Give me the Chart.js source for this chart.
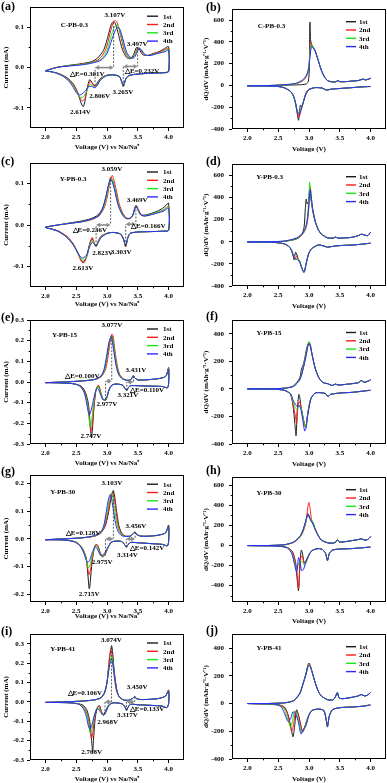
<!DOCTYPE html>
<html><head><meta charset="utf-8">
<script src="https://cdn.jsdelivr.net/npm/chart.js@4.4.1/dist/chart.umd.min.js"></script>
<style>
body{margin:0;background:#fff;width:387px;height:783px;position:relative;overflow:hidden}
canvas{position:absolute}
.pl{position:absolute;font:bold 12px 'Liberation Serif','Times New Roman',serif;line-height:12px;color:#000}
</style></head><body>
<script>
// ---------- tick labels / categories ----------
const cycleNames = ['1st','2nd','3rd','4th'];
const xTicks = [2.0,2.5,3.0,3.5,4.0];
const yTicksCV15 = [-0.1,0.0,0.1];
const yTicksCV3 = [-0.3,-0.2,-0.1,0.0,0.1,0.2,0.3];
const yTicksCV2 = [-0.2,-0.1,0.0,0.1,0.2];
const yTicksDQ6 = [-400,-200,0,200,400,600];
const yTicksDQ4 = [-400,-200,0,200,400];

// ---------- (a) C-PB-0.3 CV ----------
const a1 = [[2.0,-0.008],[2.1,-0.003],[2.2,0.001],[2.4,0.006],[2.6,0.01],[2.75,0.015],[2.85,0.024],[2.95,0.045],[3.02,0.08],[3.07,0.108],[3.107,0.115],[3.14,0.108],[3.19,0.08],[3.25,0.045],[3.32,0.025],[3.38,0.022],[3.43,0.032],[3.48,0.05],[3.52,0.046],[3.58,0.032],[3.65,0.03],[3.75,0.035],[3.85,0.04],[3.92,0.046],[4.0,0.052],
 [4.0,-0.008],[3.95,-0.012],[3.8,-0.013],[3.6,-0.015],[3.4,-0.018],[3.32,-0.024],[3.28,-0.04],[3.265,-0.046],[3.24,-0.035],[3.2,-0.022],[3.1,-0.018],[3.0,-0.019],[2.9,-0.026],[2.84,-0.038],[2.806,-0.045],[2.77,-0.04],[2.72,-0.03],[2.68,-0.05],[2.64,-0.085],[2.614,-0.097],[2.58,-0.088],[2.52,-0.06],[2.45,-0.04],[2.35,-0.025],[2.2,-0.014],[2.0,-0.008]];
const a2 = [[2.0,-0.008],[2.1,-0.003],[2.2,0.001],[2.4,0.005],[2.6,0.009],[2.75,0.013],[2.88,0.022],[2.98,0.045],[3.05,0.085],[3.1,0.112],[3.14,0.117],[3.17,0.11],[3.22,0.08],[3.28,0.043],[3.35,0.025],[3.41,0.024],[3.46,0.035],[3.5,0.05],[3.54,0.046],[3.6,0.032],[3.67,0.03],[3.77,0.035],[3.87,0.04],[3.93,0.044],[4.0,0.048],
 [4.0,-0.01],[3.9,-0.013],[3.7,-0.014],[3.5,-0.016],[3.35,-0.02],[3.3,-0.03],[3.265,-0.048],[3.24,-0.036],[3.2,-0.022],[3.1,-0.018],[3.0,-0.019],[2.9,-0.027],[2.84,-0.042],[2.8,-0.048],[2.76,-0.04],[2.72,-0.035],[2.68,-0.052],[2.64,-0.077],[2.6,-0.083],[2.56,-0.075],[2.5,-0.055],[2.43,-0.038],[2.33,-0.024],[2.2,-0.014],[2.0,-0.008]];
const a3 = [[2.0,-0.008],[2.2,0.001],[2.4,0.005],[2.6,0.008],[2.75,0.012],[2.9,0.02],[3.0,0.042],[3.07,0.08],[3.12,0.1],[3.16,0.106],[3.19,0.1],[3.24,0.075],[3.3,0.04],[3.37,0.024],[3.42,0.024],[3.47,0.035],[3.51,0.049],[3.55,0.045],[3.61,0.032],[3.68,0.03],[3.78,0.034],[3.88,0.038],[3.94,0.042],[4.0,0.046],
 [4.0,-0.01],[3.9,-0.013],[3.7,-0.014],[3.5,-0.016],[3.35,-0.02],[3.3,-0.03],[3.265,-0.047],[3.24,-0.036],[3.2,-0.022],[3.1,-0.018],[3.0,-0.019],[2.9,-0.028],[2.84,-0.044],[2.8,-0.049],[2.76,-0.044],[2.72,-0.042],[2.68,-0.055],[2.63,-0.07],[2.58,-0.075],[2.53,-0.068],[2.47,-0.05],[2.4,-0.035],[2.3,-0.022],[2.15,-0.012],[2.0,-0.008]];
const a4 = [[2.0,-0.008],[2.2,0.001],[2.4,0.004],[2.6,0.007],[2.75,0.011],[2.9,0.018],[3.0,0.035],[3.08,0.07],[3.14,0.094],[3.18,0.1],[3.21,0.095],[3.26,0.07],[3.32,0.038],[3.39,0.024],[3.44,0.025],[3.49,0.038],[3.52,0.048],[3.56,0.044],[3.62,0.032],[3.7,0.03],[3.8,0.034],[3.9,0.038],[3.95,0.04],[4.0,0.044],
 [4.0,-0.01],[3.9,-0.013],[3.7,-0.014],[3.5,-0.016],[3.35,-0.02],[3.3,-0.03],[3.265,-0.045],[3.24,-0.036],[3.2,-0.022],[3.1,-0.018],[3.0,-0.02],[2.9,-0.03],[2.84,-0.045],[2.8,-0.05],[2.75,-0.047],[2.7,-0.047],[2.65,-0.058],[2.59,-0.066],[2.55,-0.068],[2.5,-0.062],[2.44,-0.046],[2.37,-0.032],[2.27,-0.02],[2.12,-0.011],[2.0,-0.008]];

// ---------- (b) C-PB-0.3 dQ/dV ----------
const b1c = [[2.35,0],[2.6,2],[2.8,5],[2.9,8],[2.96,15],[2.99,40],[3.005,150],[3.015,580],[3.025,420],[3.04,380],[3.07,350],[3.1,320],[3.15,230],[3.2,140],[3.25,80],[3.3,45],[3.38,32],[3.44,35],[3.47,45],[3.5,35],[3.6,35],[3.7,40],[3.8,45],[3.88,58],[3.92,50],[4.0,65]];
const b1d = [[3.97,-10],[3.9,-12],[3.7,-20],[3.5,-28],[3.35,-35],[3.3,-42],[3.27,-40],[3.22,-25],[3.1,-20],[3.0,-35],[2.95,-70],[2.9,-170],[2.88,-200],[2.86,-180],[2.845,-250],[2.83,-320],[2.81,-260],[2.78,-160],[2.75,-100],[2.7,-55],[2.6,-22],[2.5,-10],[2.3,-5],[2.0,-4]];
const b2c = [[2.0,-4],[2.3,-2],[2.5,2],[2.7,10],[2.8,18],[2.9,42],[2.95,75],[2.98,115],[3.0,180],[3.015,320],[3.025,400],[3.035,375],[3.06,355],[3.1,320],[3.15,230],[3.2,140],[3.25,80],[3.3,45],[3.38,32],[3.44,35],[3.47,45],[3.5,35],[3.6,35],[3.7,40],[3.8,45],[3.88,58],[3.92,50],[4.0,65]];
const b2d = [[4.0,-10],[3.9,-12],[3.7,-20],[3.5,-28],[3.35,-35],[3.3,-42],[3.27,-40],[3.22,-25],[3.1,-20],[3.0,-38],[2.95,-75],[2.9,-170],[2.87,-230],[2.84,-290],[2.82,-270],[2.79,-180],[2.75,-100],[2.7,-55],[2.6,-22],[2.5,-10],[2.3,-5],[2.0,-4]];
const b3c = [[2.0,-4],[2.3,-2],[2.5,2],[2.7,10],[2.8,20],[2.9,48],[2.95,80],[2.98,120],[3.0,180],[3.015,290],[3.03,375],[3.045,365],[3.07,345],[3.1,315],[3.15,230],[3.2,140],[3.25,80],[3.3,45],[3.38,32],[3.44,35],[3.47,45],[3.5,35],[3.6,35],[3.7,40],[3.8,45],[3.88,58],[3.92,50],[4.0,65]];
const b3d = [[4.0,-10],[3.9,-12],[3.7,-20],[3.5,-28],[3.35,-35],[3.3,-42],[3.27,-40],[3.22,-25],[3.1,-20],[3.0,-40],[2.95,-80],[2.9,-160],[2.86,-230],[2.835,-250],[2.81,-230],[2.78,-170],[2.75,-105],[2.7,-55],[2.6,-22],[2.5,-10],[2.3,-5],[2.0,-4]];
const b4c = [[2.0,-4],[2.3,-2],[2.5,3],[2.7,12],[2.8,22],[2.9,52],[2.95,85],[2.98,125],[3.0,185],[3.02,280],[3.04,360],[3.06,350],[3.08,335],[3.1,315],[3.15,230],[3.2,140],[3.25,80],[3.3,45],[3.38,32],[3.44,35],[3.47,45],[3.5,35],[3.6,35],[3.7,40],[3.8,45],[3.88,58],[3.92,50],[4.0,65]];
const b4d = [[4.0,-10],[3.9,-12],[3.7,-20],[3.5,-28],[3.35,-35],[3.3,-42],[3.27,-40],[3.22,-25],[3.1,-20],[3.0,-40],[2.95,-80],[2.9,-170],[2.86,-240],[2.84,-270],[2.81,-240],[2.78,-160],[2.75,-100],[2.7,-55],[2.6,-22],[2.5,-10],[2.3,-5],[2.0,-4]];

// ---------- (c) Y-PB-0.3 CV ----------
const c1 = [[2.0,-0.005],[2.2,0.0],[2.4,0.005],[2.6,0.01],[2.75,0.016],[2.85,0.024],[2.92,0.038],[2.98,0.065],[3.03,0.1],[3.06,0.115],[3.09,0.108],[3.13,0.085],[3.18,0.052],[3.24,0.03],[3.3,0.018],[3.36,0.016],[3.41,0.022],[3.45,0.04],[3.47,0.047],[3.5,0.038],[3.55,0.025],[3.62,0.024],[3.72,0.028],[3.82,0.034],[3.9,0.04],[3.96,0.048],[4.0,0.053],
 [4.0,-0.012],[3.9,-0.015],[3.7,-0.016],[3.5,-0.017],[3.38,-0.02],[3.34,-0.03],[3.303,-0.052],[3.27,-0.035],[3.22,-0.022],[3.1,-0.018],[3.0,-0.02],[2.9,-0.028],[2.85,-0.042],[2.823,-0.052],[2.79,-0.043],[2.76,-0.033],[2.72,-0.045],[2.67,-0.075],[2.62,-0.09],[2.58,-0.085],[2.52,-0.065],[2.45,-0.045],[2.35,-0.028],[2.2,-0.014],[2.0,-0.006]];
const c2 = [[2.0,-0.005],[2.2,0.0],[2.4,0.004],[2.6,0.008],[2.75,0.013],[2.87,0.022],[2.95,0.04],[3.0,0.065],[3.05,0.105],[3.085,0.12],[3.11,0.11],[3.15,0.085],[3.2,0.05],[3.26,0.028],[3.32,0.016],[3.38,0.016],[3.42,0.024],[3.46,0.042],[3.48,0.047],[3.51,0.038],[3.56,0.024],[3.63,0.022],[3.73,0.026],[3.83,0.031],[3.91,0.036],[4.0,0.045],
 [4.0,-0.013],[3.9,-0.015],[3.7,-0.016],[3.5,-0.017],[3.38,-0.02],[3.34,-0.03],[3.303,-0.053],[3.27,-0.035],[3.22,-0.022],[3.1,-0.018],[3.0,-0.02],[2.9,-0.028],[2.85,-0.043],[2.823,-0.053],[2.79,-0.042],[2.76,-0.03],[2.72,-0.045],[2.67,-0.078],[2.62,-0.092],[2.58,-0.087],[2.52,-0.067],[2.45,-0.046],[2.35,-0.028],[2.2,-0.014],[2.0,-0.006]];
const c3 = [[2.0,-0.005],[2.2,0.0],[2.4,0.004],[2.6,0.008],[2.75,0.014],[2.86,0.022],[2.94,0.04],[3.0,0.075],[3.04,0.102],[3.07,0.112],[3.1,0.104],[3.14,0.08],[3.19,0.048],[3.25,0.027],[3.31,0.016],[3.37,0.016],[3.42,0.024],[3.45,0.04],[3.47,0.046],[3.5,0.038],[3.55,0.024],[3.62,0.022],[3.72,0.026],[3.82,0.031],[3.91,0.036],[4.0,0.043],
 [4.0,-0.013],[3.9,-0.015],[3.7,-0.016],[3.5,-0.017],[3.38,-0.02],[3.34,-0.03],[3.303,-0.051],[3.27,-0.035],[3.22,-0.022],[3.1,-0.018],[3.0,-0.02],[2.9,-0.03],[2.85,-0.044],[2.823,-0.052],[2.79,-0.045],[2.76,-0.038],[2.72,-0.05],[2.67,-0.076],[2.62,-0.085],[2.58,-0.082],[2.52,-0.066],[2.45,-0.047],[2.35,-0.03],[2.2,-0.015],[2.0,-0.006]];
const c4 = [[2.0,-0.005],[2.2,0.0],[2.4,0.004],[2.6,0.008],[2.75,0.014],[2.86,0.022],[2.93,0.04],[2.99,0.075],[3.03,0.1],[3.06,0.11],[3.09,0.102],[3.13,0.08],[3.18,0.048],[3.24,0.027],[3.3,0.016],[3.37,0.016],[3.42,0.024],[3.45,0.04],[3.47,0.046],[3.5,0.038],[3.55,0.024],[3.62,0.022],[3.72,0.025],[3.82,0.029],[3.91,0.033],[4.0,0.04],
 [4.0,-0.013],[3.9,-0.015],[3.7,-0.016],[3.5,-0.017],[3.38,-0.02],[3.34,-0.03],[3.303,-0.05],[3.27,-0.035],[3.22,-0.022],[3.1,-0.018],[3.0,-0.021],[2.9,-0.031],[2.85,-0.045],[2.82,-0.05],[2.79,-0.046],[2.76,-0.042],[2.72,-0.052],[2.67,-0.072],[2.61,-0.08],[2.57,-0.077],[2.51,-0.063],[2.44,-0.046],[2.34,-0.029],[2.2,-0.015],[2.0,-0.006]];

// ---------- (d) Y-PB-0.3 dQ/dV ----------
const d1c = [[2.3,0],[2.6,3],[2.8,25],[2.88,60],[2.92,130],[2.94,300],[2.955,385],[2.97,340],[2.99,360],[3.01,470],[3.03,390],[3.06,280],[3.1,180],[3.15,110],[3.2,70],[3.3,35],[3.4,33],[3.43,42],[3.47,32],[3.6,35],[3.7,40],[3.8,55],[3.85,68],[3.9,60],[3.95,55],[4.0,85]];
const d1d = [[3.96,-15],[3.9,-20],[3.7,-30],[3.5,-35],[3.35,-45],[3.3,-50],[3.25,-40],[3.15,-30],[3.05,-60],[3.0,-100],[2.96,-180],[2.92,-275],[2.88,-230],[2.85,-180],[2.82,-150],[2.8,-110],[2.78,-95],[2.76,-165],[2.74,-110],[2.7,-60],[2.6,-20],[2.4,-5],[2.0,-2]];
const d2c = [[2.0,-2],[2.3,0],[2.6,5],[2.8,30],[2.9,70],[2.95,120],[2.98,200],[3.0,330],[3.02,500],[3.035,420],[3.06,290],[3.1,185],[3.15,110],[3.2,70],[3.3,35],[3.4,33],[3.43,42],[3.47,32],[3.6,35],[3.7,40],[3.8,55],[3.85,68],[3.9,60],[3.95,55],[4.0,85]];
const d2d = [[4.0,-12],[3.9,-20],[3.7,-30],[3.5,-35],[3.35,-45],[3.3,-50],[3.25,-40],[3.15,-30],[3.05,-60],[3.0,-100],[2.96,-180],[2.92,-275],[2.88,-230],[2.85,-180],[2.82,-150],[2.8,-130],[2.78,-150],[2.76,-165],[2.73,-100],[2.7,-60],[2.6,-20],[2.4,-5],[2.0,-2]];
const d3c = [[2.0,-2],[2.3,0],[2.6,5],[2.8,30],[2.9,75],[2.95,130],[2.98,250],[3.0,420],[3.01,540],[3.025,450],[3.05,320],[3.1,190],[3.15,110],[3.2,70],[3.3,35],[3.4,33],[3.43,42],[3.47,32],[3.6,35],[3.7,40],[3.8,55],[3.85,68],[3.9,60],[3.95,55],[4.0,85]];
const d3d = [[4.0,-12],[3.9,-20],[3.7,-30],[3.5,-35],[3.35,-45],[3.3,-50],[3.25,-40],[3.15,-30],[3.05,-60],[3.0,-100],[2.96,-180],[2.92,-275],[2.88,-230],[2.85,-180],[2.82,-155],[2.8,-150],[2.77,-160],[2.74,-120],[2.7,-60],[2.6,-20],[2.4,-5],[2.0,-2]];
const d4c = [[2.0,-2],[2.3,0],[2.6,6],[2.8,35],[2.9,80],[2.95,140],[2.98,230],[3.0,360],[3.02,470],[3.035,410],[3.06,300],[3.1,190],[3.15,110],[3.2,70],[3.3,35],[3.4,33],[3.43,42],[3.47,32],[3.6,35],[3.7,40],[3.8,55],[3.85,68],[3.9,60],[3.95,55],[4.0,85]];
const d4d = [[4.0,-12],[3.9,-20],[3.7,-30],[3.5,-35],[3.35,-45],[3.3,-50],[3.25,-40],[3.15,-30],[3.05,-60],[3.0,-100],[2.96,-185],[2.92,-278],[2.88,-235],[2.85,-185],[2.82,-165],[2.8,-160],[2.76,-150],[2.72,-90],[2.68,-45],[2.6,-18],[2.4,-5],[2.0,-2]];

// ---------- (e) Y-PB-15 CV ----------
const e1 = [[2.0,-0.003],[2.3,0.0],[2.6,0.006],[2.8,0.013],[2.9,0.028],[2.96,0.06],[3.0,0.12],[3.04,0.19],[3.07,0.225],[3.09,0.215],[3.12,0.15],[3.16,0.075],[3.2,0.035],[3.26,0.015],[3.33,0.008],[3.38,0.01],[3.41,0.022],[3.43,0.03],[3.45,0.02],[3.5,0.01],[3.6,0.01],[3.7,0.012],[3.8,0.015],[3.9,0.02],[3.96,0.03],[4.0,0.07],
 [4.0,-0.01],[3.98,-0.028],[3.9,-0.022],[3.7,-0.02],[3.5,-0.018],[3.38,-0.018],[3.34,-0.03],[3.321,-0.042],[3.3,-0.035],[3.25,-0.015],[3.15,-0.01],[3.08,-0.015],[3.03,-0.04],[3.0,-0.075],[2.977,-0.088],[2.94,-0.085],[2.9,-0.055],[2.87,-0.022],[2.85,-0.02],[2.82,-0.04],[2.79,-0.12],[2.76,-0.24],[2.747,-0.27],[2.73,-0.22],[2.7,-0.11],[2.65,-0.05],[2.58,-0.02],[2.45,-0.008],[2.2,-0.004],[2.0,-0.003]];
const e2 = [[2.0,-0.003],[2.3,0.0],[2.6,0.005],[2.8,0.012],[2.9,0.024],[2.97,0.055],[3.01,0.11],[3.05,0.19],[3.08,0.232],[3.1,0.22],[3.13,0.15],[3.17,0.075],[3.21,0.035],[3.27,0.015],[3.33,0.008],[3.38,0.01],[3.41,0.022],[3.43,0.03],[3.45,0.02],[3.5,0.01],[3.6,0.01],[3.7,0.012],[3.8,0.015],[3.9,0.02],[3.96,0.03],[4.0,0.068],
 [4.0,-0.01],[3.98,-0.028],[3.9,-0.022],[3.7,-0.02],[3.5,-0.018],[3.38,-0.018],[3.34,-0.03],[3.321,-0.042],[3.3,-0.035],[3.25,-0.015],[3.15,-0.01],[3.08,-0.015],[3.03,-0.04],[3.0,-0.075],[2.977,-0.088],[2.94,-0.085],[2.9,-0.05],[2.87,-0.018],[2.85,-0.017],[2.82,-0.04],[2.79,-0.11],[2.76,-0.21],[2.74,-0.24],[2.72,-0.2],[2.69,-0.11],[2.64,-0.05],[2.57,-0.02],[2.45,-0.008],[2.2,-0.004],[2.0,-0.003]];
const e3 = [[2.0,-0.003],[2.3,0.0],[2.6,0.005],[2.8,0.012],[2.9,0.026],[2.96,0.058],[3.0,0.12],[3.04,0.195],[3.07,0.222],[3.09,0.21],[3.12,0.15],[3.16,0.075],[3.2,0.035],[3.26,0.015],[3.33,0.008],[3.38,0.01],[3.41,0.022],[3.43,0.03],[3.45,0.02],[3.5,0.01],[3.6,0.01],[3.7,0.012],[3.8,0.015],[3.9,0.02],[3.96,0.03],[4.0,0.065],
 [4.0,-0.01],[3.98,-0.028],[3.9,-0.022],[3.7,-0.02],[3.5,-0.018],[3.38,-0.018],[3.34,-0.03],[3.321,-0.042],[3.3,-0.035],[3.25,-0.015],[3.15,-0.01],[3.08,-0.015],[3.03,-0.04],[3.0,-0.075],[2.97,-0.088],[2.94,-0.086],[2.9,-0.055],[2.86,-0.024],[2.84,-0.024],[2.81,-0.05],[2.78,-0.11],[2.75,-0.19],[2.73,-0.22],[2.71,-0.18],[2.68,-0.1],[2.63,-0.05],[2.56,-0.02],[2.45,-0.008],[2.2,-0.004],[2.0,-0.003]];
const e4 = [[2.0,-0.003],[2.3,0.0],[2.6,0.005],[2.8,0.012],[2.9,0.028],[2.95,0.06],[2.99,0.12],[3.03,0.19],[3.06,0.215],[3.08,0.205],[3.11,0.15],[3.15,0.075],[3.19,0.035],[3.25,0.015],[3.33,0.008],[3.38,0.01],[3.41,0.022],[3.43,0.03],[3.45,0.02],[3.5,0.01],[3.6,0.01],[3.7,0.012],[3.8,0.015],[3.9,0.02],[3.96,0.03],[4.0,0.062],
 [4.0,-0.01],[3.98,-0.028],[3.9,-0.022],[3.7,-0.02],[3.5,-0.018],[3.38,-0.018],[3.34,-0.03],[3.321,-0.04],[3.3,-0.034],[3.25,-0.015],[3.15,-0.01],[3.08,-0.015],[3.03,-0.04],[3.0,-0.07],[2.96,-0.085],[2.93,-0.085],[2.9,-0.065],[2.86,-0.035],[2.84,-0.03],[2.81,-0.05],[2.77,-0.1],[2.74,-0.14],[2.71,-0.16],[2.68,-0.12],[2.64,-0.06],[2.58,-0.025],[2.48,-0.01],[2.2,-0.004],[2.0,-0.003]];

// ---------- (f) Y-PB-15 dQ/dV ----------
const f1c = [[2.3,0],[2.6,5],[2.75,22],[2.85,80],[2.88,150],[2.9,165],[2.93,220],[2.96,290],[2.99,330],[3.02,310],[3.05,245],[3.1,150],[3.15,90],[3.2,55],[3.25,42],[3.3,38],[3.38,25],[3.43,35],[3.47,28],[3.6,33],[3.7,38],[3.8,45],[3.85,60],[3.9,48],[3.95,55],[4.0,65]];
const f1d = [[3.97,-10],[3.9,-15],[3.7,-25],[3.5,-30],[3.35,-40],[3.31,-55],[3.27,-35],[3.2,-28],[3.1,-30],[3.03,-70],[2.98,-180],[2.95,-275],[2.93,-265],[2.9,-200],[2.87,-130],[2.85,-60],[2.835,-40],[2.81,-150],[2.79,-340],[2.77,-250],[2.74,-120],[2.7,-40],[2.6,-10],[2.4,-2],[2.0,0]];
const f2c = [[2.0,0],[2.3,0],[2.6,5],[2.75,20],[2.85,70],[2.9,140],[2.95,240],[2.98,310],[3.0,340],[3.02,320],[3.05,250],[3.1,150],[3.15,90],[3.2,55],[3.25,42],[3.3,38],[3.38,25],[3.43,35],[3.47,28],[3.6,33],[3.7,38],[3.8,45],[3.85,60],[3.9,48],[3.95,55],[4.0,65]];
const f2d = [[4.0,-10],[3.9,-15],[3.7,-25],[3.5,-30],[3.35,-40],[3.31,-55],[3.27,-35],[3.2,-28],[3.1,-30],[3.03,-70],[2.98,-175],[2.95,-270],[2.93,-265],[2.9,-200],[2.87,-130],[2.85,-95],[2.83,-100],[2.81,-180],[2.8,-250],[2.78,-200],[2.74,-110],[2.7,-40],[2.6,-10],[2.4,-2],[2.0,0]];
const f3c = [[2.0,0],[2.3,0],[2.6,5],[2.75,20],[2.85,70],[2.9,140],[2.95,245],[2.98,315],[3.0,345],[3.02,325],[3.05,250],[3.1,150],[3.15,90],[3.2,55],[3.25,42],[3.3,38],[3.38,25],[3.43,35],[3.47,28],[3.6,33],[3.7,38],[3.8,45],[3.85,60],[3.9,48],[3.95,55],[4.0,65]];
const f3d = [[4.0,-10],[3.9,-15],[3.7,-25],[3.5,-30],[3.35,-40],[3.31,-55],[3.27,-35],[3.2,-28],[3.1,-30],[3.03,-70],[2.98,-180],[2.95,-280],[2.93,-270],[2.9,-200],[2.87,-140],[2.85,-120],[2.83,-130],[2.81,-150],[2.78,-140],[2.74,-90],[2.7,-35],[2.6,-10],[2.4,-2],[2.0,0]];
const f4c = [[2.0,0],[2.3,0],[2.6,5],[2.75,18],[2.85,65],[2.9,135],[2.95,235],[2.98,305],[3.0,330],[3.02,320],[3.05,252],[3.1,152],[3.15,90],[3.2,55],[3.25,42],[3.3,38],[3.38,25],[3.43,35],[3.47,28],[3.6,33],[3.7,38],[3.8,45],[3.85,60],[3.9,48],[3.95,55],[4.0,65]];
const f4d = [[4.0,-10],[3.9,-15],[3.7,-25],[3.5,-30],[3.35,-40],[3.31,-55],[3.27,-35],[3.2,-28],[3.1,-30],[3.03,-75],[2.98,-190],[2.95,-290],[2.93,-305],[2.9,-230],[2.87,-150],[2.84,-120],[2.82,-130],[2.79,-120],[2.74,-80],[2.7,-35],[2.6,-10],[2.4,-2],[2.0,0]];

// ---------- (g) Y-PB-30 CV ----------
const g1 = [[2.0,-0.003],[2.3,0.0],[2.6,0.004],[2.8,0.01],[2.9,0.022],[2.97,0.045],[3.02,0.09],[3.06,0.14],[3.09,0.17],[3.103,0.175],[3.12,0.16],[3.15,0.11],[3.19,0.05],[3.24,0.02],[3.3,0.01],[3.38,0.01],[3.42,0.018],[3.456,0.025],[3.48,0.016],[3.55,0.01],[3.7,0.01],[3.85,0.014],[3.95,0.022],[4.0,0.05],
 [4.0,-0.01],[3.98,-0.025],[3.9,-0.02],[3.7,-0.017],[3.5,-0.014],[3.38,-0.013],[3.34,-0.022],[3.314,-0.03],[3.29,-0.022],[3.24,-0.01],[3.15,-0.008],[3.07,-0.012],[3.02,-0.03],[2.97,-0.055],[2.93,-0.065],[2.89,-0.05],[2.85,-0.025],[2.82,-0.02],[2.79,-0.035],[2.75,-0.1],[2.72,-0.175],[2.71,-0.18],[2.69,-0.13],[2.66,-0.07],[2.6,-0.035],[2.5,-0.012],[2.3,-0.004],[2.0,-0.003]];
const g2 = [[2.0,-0.003],[2.3,0.0],[2.6,0.004],[2.8,0.01],[2.9,0.022],[2.96,0.045],[3.01,0.09],[3.05,0.14],[3.08,0.165],[3.09,0.168],[3.11,0.155],[3.14,0.11],[3.18,0.05],[3.23,0.02],[3.3,0.01],[3.38,0.01],[3.42,0.018],[3.456,0.025],[3.48,0.016],[3.55,0.01],[3.7,0.01],[3.85,0.014],[3.95,0.022],[4.0,0.048],
 [4.0,-0.01],[3.98,-0.025],[3.9,-0.02],[3.7,-0.017],[3.5,-0.014],[3.38,-0.013],[3.34,-0.022],[3.314,-0.03],[3.29,-0.022],[3.24,-0.01],[3.15,-0.008],[3.07,-0.012],[3.02,-0.03],[2.97,-0.055],[2.92,-0.065],[2.88,-0.045],[2.85,-0.023],[2.82,-0.022],[2.78,-0.045],[2.74,-0.1],[2.71,-0.13],[2.69,-0.11],[2.66,-0.065],[2.6,-0.033],[2.5,-0.012],[2.3,-0.004],[2.0,-0.003]];
const g3 = [[2.0,-0.003],[2.3,0.0],[2.6,0.004],[2.8,0.011],[2.9,0.024],[2.95,0.047],[3.0,0.095],[3.04,0.145],[3.07,0.165],[3.09,0.155],[3.12,0.11],[3.16,0.055],[3.21,0.022],[3.28,0.01],[3.38,0.01],[3.42,0.018],[3.456,0.025],[3.48,0.016],[3.55,0.01],[3.7,0.01],[3.85,0.014],[3.95,0.022],[4.0,0.046],
 [4.0,-0.01],[3.98,-0.025],[3.9,-0.02],[3.7,-0.017],[3.5,-0.014],[3.38,-0.013],[3.34,-0.022],[3.314,-0.03],[3.29,-0.022],[3.24,-0.01],[3.15,-0.008],[3.07,-0.012],[3.02,-0.03],[2.96,-0.055],[2.91,-0.063],[2.87,-0.045],[2.84,-0.028],[2.81,-0.028],[2.77,-0.05],[2.73,-0.09],[2.7,-0.105],[2.68,-0.09],[2.64,-0.055],[2.58,-0.028],[2.48,-0.01],[2.3,-0.004],[2.0,-0.003]];
const g4 = [[2.0,-0.003],[2.3,0.0],[2.6,0.004],[2.8,0.012],[2.9,0.026],[2.95,0.05],[2.99,0.1],[3.02,0.14],[3.05,0.16],[3.07,0.15],[3.1,0.11],[3.14,0.055],[3.19,0.022],[3.26,0.01],[3.38,0.01],[3.42,0.018],[3.456,0.024],[3.48,0.016],[3.55,0.01],[3.7,0.01],[3.85,0.014],[3.95,0.022],[4.0,0.045],
 [4.0,-0.01],[3.98,-0.025],[3.9,-0.02],[3.7,-0.017],[3.5,-0.014],[3.38,-0.013],[3.34,-0.022],[3.314,-0.029],[3.29,-0.022],[3.24,-0.01],[3.15,-0.008],[3.07,-0.012],[3.02,-0.028],[2.96,-0.052],[2.9,-0.06],[2.86,-0.045],[2.83,-0.032],[2.8,-0.032],[2.76,-0.05],[2.72,-0.077],[2.69,-0.085],[2.66,-0.075],[2.62,-0.05],[2.56,-0.025],[2.46,-0.01],[2.3,-0.004],[2.0,-0.003]];

// ---------- (h) Y-PB-30 dQ/dV ----------
const h1c = [[2.3,0],[2.6,8],[2.75,35],[2.85,90],[2.9,150],[2.95,250],[2.98,320],[3.0,300],[3.03,250],[3.06,220],[3.1,160],[3.15,100],[3.2,55],[3.3,28],[3.4,25],[3.44,40],[3.46,55],[3.5,35],[3.6,40],[3.7,50],[3.8,60],[3.85,68],[3.9,55],[3.95,60],[4.0,90]];
const h1d = [[3.97,-15],[3.9,-20],[3.7,-30],[3.5,-35],[3.38,-45],[3.33,-80],[3.3,-150],[3.27,-80],[3.22,-40],[3.15,-30],[3.05,-50],[3.0,-90],[2.95,-150],[2.92,-170],[2.895,-80],[2.875,-45],[2.85,-200],[2.83,-450],[2.81,-350],[2.78,-170],[2.73,-60],[2.65,-20],[2.5,-5],[2.0,0]];
const h2c = [[2.0,0],[2.3,0],[2.6,8],[2.75,30],[2.85,80],[2.9,130],[2.95,230],[2.98,380],[3.0,430],[3.02,360],[3.04,260],[3.07,220],[3.1,160],[3.15,100],[3.2,55],[3.3,28],[3.4,25],[3.44,40],[3.46,55],[3.5,35],[3.6,40],[3.7,50],[3.8,60],[3.85,68],[3.9,55],[3.95,60],[4.0,90]];
const h2d = [[4.0,-15],[3.9,-20],[3.7,-30],[3.5,-35],[3.38,-45],[3.33,-80],[3.3,-150],[3.27,-80],[3.22,-40],[3.15,-30],[3.05,-50],[3.0,-90],[2.95,-160],[2.92,-180],[2.895,-110],[2.87,-110],[2.85,-250],[2.83,-430],[2.81,-300],[2.78,-160],[2.73,-60],[2.65,-20],[2.5,-5],[2.0,0]];
const h3c = [[2.0,0],[2.3,0],[2.6,8],[2.75,32],[2.85,85],[2.9,140],[2.95,240],[2.98,300],[3.0,285],[3.03,260],[3.06,240],[3.1,170],[3.15,100],[3.2,55],[3.3,28],[3.4,25],[3.44,40],[3.46,55],[3.5,35],[3.6,40],[3.7,50],[3.8,60],[3.85,68],[3.9,55],[3.95,60],[4.0,90]];
const h3d = [[4.0,-15],[3.9,-20],[3.7,-30],[3.5,-35],[3.38,-45],[3.33,-80],[3.3,-150],[3.27,-80],[3.22,-40],[3.15,-30],[3.05,-50],[3.0,-100],[2.95,-180],[2.93,-200],[2.9,-170],[2.86,-150],[2.82,-200],[2.8,-250],[2.77,-180],[2.72,-70],[2.65,-22],[2.5,-5],[2.0,0]];
const h4c = [[2.0,0],[2.3,0],[2.6,8],[2.75,35],[2.85,90],[2.9,150],[2.95,250],[2.98,310],[3.0,290],[3.03,250],[3.06,225],[3.1,165],[3.15,100],[3.2,55],[3.3,28],[3.4,25],[3.44,40],[3.46,55],[3.5,35],[3.6,40],[3.7,50],[3.8,60],[3.85,68],[3.9,55],[3.95,60],[4.0,90]];
const h4d = [[4.0,-15],[3.9,-20],[3.7,-30],[3.5,-35],[3.38,-45],[3.33,-80],[3.3,-150],[3.27,-80],[3.22,-40],[3.15,-30],[3.05,-50],[3.0,-95],[2.95,-160],[2.91,-240],[2.88,-250],[2.85,-150],[2.83,-120],[2.8,-270],[2.77,-200],[2.72,-80],[2.65,-25],[2.5,-6],[2.0,0]];

// ---------- (i) Y-PB-41 CV ----------
const i1 = [[2.0,-0.003],[2.3,0.0],[2.6,0.004],[2.8,0.01],[2.9,0.02],[2.96,0.045],[3.0,0.1],[3.04,0.22],[3.074,0.29],[3.09,0.26],[3.12,0.15],[3.16,0.06],[3.2,0.025],[3.27,0.01],[3.35,0.008],[3.42,0.018],[3.45,0.028],[3.48,0.016],[3.55,0.012],[3.7,0.013],[3.85,0.018],[3.95,0.03],[4.0,0.06],
 [4.0,-0.01],[3.97,-0.03],[3.9,-0.022],[3.7,-0.018],[3.5,-0.015],[3.38,-0.013],[3.34,-0.03],[3.317,-0.045],[3.29,-0.025],[3.24,-0.01],[3.1,-0.005],[3.03,-0.015],[2.98,-0.045],[2.94,-0.065],[2.91,-0.05],[2.88,-0.02],[2.85,-0.025],[2.81,-0.08],[2.78,-0.2],[2.768,-0.26],[2.75,-0.2],[2.72,-0.1],[2.67,-0.04],[2.6,-0.015],[2.4,-0.005],[2.0,-0.003]];
const i2 = [[2.0,-0.003],[2.3,0.0],[2.6,0.004],[2.8,0.01],[2.9,0.02],[2.96,0.045],[3.0,0.1],[3.03,0.2],[3.06,0.27],[3.08,0.25],[3.11,0.15],[3.15,0.06],[3.2,0.025],[3.27,0.01],[3.35,0.008],[3.42,0.018],[3.45,0.028],[3.48,0.016],[3.55,0.012],[3.7,0.013],[3.85,0.018],[3.95,0.03],[4.0,0.062],
 [4.0,-0.01],[3.97,-0.03],[3.9,-0.022],[3.7,-0.018],[3.5,-0.015],[3.38,-0.013],[3.34,-0.03],[3.317,-0.045],[3.29,-0.025],[3.24,-0.01],[3.1,-0.005],[3.03,-0.017],[2.98,-0.05],[2.94,-0.068],[2.9,-0.045],[2.87,-0.025],[2.84,-0.03],[2.8,-0.08],[2.77,-0.16],[2.75,-0.19],[2.73,-0.16],[2.7,-0.09],[2.65,-0.04],[2.58,-0.015],[2.4,-0.005],[2.0,-0.003]];
const i3 = [[2.0,-0.003],[2.3,0.0],[2.6,0.004],[2.8,0.01],[2.9,0.021],[2.96,0.047],[3.0,0.1],[3.04,0.19],[3.07,0.235],[3.09,0.22],[3.12,0.14],[3.16,0.058],[3.2,0.025],[3.27,0.01],[3.35,0.008],[3.42,0.018],[3.45,0.028],[3.48,0.016],[3.55,0.012],[3.7,0.013],[3.85,0.018],[3.95,0.03],[4.0,0.058],
 [4.0,-0.01],[3.97,-0.03],[3.9,-0.022],[3.7,-0.018],[3.5,-0.015],[3.38,-0.013],[3.34,-0.03],[3.317,-0.044],[3.29,-0.025],[3.24,-0.01],[3.1,-0.005],[3.03,-0.018],[2.98,-0.052],[2.94,-0.07],[2.9,-0.05],[2.86,-0.032],[2.83,-0.035],[2.79,-0.08],[2.76,-0.14],[2.73,-0.16],[2.71,-0.13],[2.68,-0.075],[2.63,-0.035],[2.56,-0.013],[2.4,-0.005],[2.0,-0.003]];
const i4 = [[2.0,-0.003],[2.3,0.0],[2.6,0.004],[2.8,0.011],[2.9,0.022],[2.96,0.05],[3.0,0.1],[3.04,0.185],[3.07,0.22],[3.09,0.205],[3.12,0.14],[3.16,0.06],[3.2,0.026],[3.27,0.01],[3.35,0.008],[3.42,0.018],[3.45,0.027],[3.48,0.016],[3.55,0.012],[3.7,0.013],[3.85,0.018],[3.95,0.03],[4.0,0.055],
 [4.0,-0.01],[3.97,-0.03],[3.9,-0.022],[3.7,-0.018],[3.5,-0.015],[3.38,-0.013],[3.34,-0.029],[3.317,-0.043],[3.29,-0.025],[3.24,-0.01],[3.1,-0.005],[3.03,-0.02],[2.98,-0.055],[2.94,-0.07],[2.9,-0.055],[2.86,-0.038],[2.83,-0.04],[2.79,-0.075],[2.75,-0.125],[2.72,-0.14],[2.69,-0.115],[2.66,-0.07],[2.61,-0.032],[2.54,-0.012],[2.4,-0.005],[2.0,-0.003]];

// ---------- (j) Y-PB-41 dQ/dV ----------
const j1c = [[2.3,0],[2.6,5],[2.75,22],[2.85,75],[2.9,140],[2.95,215],[2.98,275],[3.0,292],[3.02,275],[3.05,230],[3.1,150],[3.15,90],[3.2,55],[3.3,28],[3.38,25],[3.42,40],[3.46,80],[3.49,40],[3.55,35],[3.7,45],[3.8,55],[3.85,65],[3.9,55],[3.95,60],[4.0,80]];
const j1d = [[3.97,-10],[3.9,-18],[3.7,-25],[3.5,-30],[3.38,-45],[3.33,-90],[3.3,-170],[3.28,-120],[3.24,-50],[3.15,-40],[3.05,-50],[3.0,-80],[2.95,-140],[2.92,-180],[2.89,-200],[2.85,-120],[2.8,-45],[2.77,-150],[2.74,-240],[2.71,-180],[2.66,-80],[2.6,-25],[2.5,-8],[2.0,0]];
const j2c = [[2.0,0],[2.3,0],[2.6,5],[2.75,20],[2.85,70],[2.9,135],[2.95,210],[2.98,268],[3.0,283],[3.02,270],[3.05,228],[3.1,150],[3.15,90],[3.2,55],[3.3,28],[3.38,25],[3.42,40],[3.46,78],[3.49,40],[3.55,35],[3.7,45],[3.8,55],[3.85,65],[3.9,55],[3.95,60],[4.0,80]];
const j2d = [[4.0,-10],[3.9,-18],[3.7,-25],[3.5,-30],[3.38,-45],[3.33,-90],[3.3,-165],[3.28,-120],[3.24,-50],[3.15,-40],[3.05,-50],[3.0,-80],[2.96,-140],[2.93,-175],[2.9,-205],[2.86,-150],[2.82,-70],[2.78,-55],[2.75,-150],[2.72,-200],[2.69,-150],[2.64,-60],[2.55,-15],[2.0,0]];
const j3c = [[2.0,0],[2.3,0],[2.6,5],[2.75,20],[2.85,72],[2.9,138],[2.95,210],[2.98,265],[3.0,278],[3.02,268],[3.05,228],[3.1,150],[3.15,90],[3.2,55],[3.3,28],[3.38,25],[3.42,40],[3.46,78],[3.49,40],[3.55,35],[3.7,45],[3.8,55],[3.85,65],[3.9,55],[3.95,60],[4.0,80]];
const j3d = [[4.0,-10],[3.9,-18],[3.7,-25],[3.5,-30],[3.38,-45],[3.33,-90],[3.3,-165],[3.28,-120],[3.24,-50],[3.15,-40],[3.05,-50],[3.0,-80],[2.95,-150],[2.92,-190],[2.88,-210],[2.84,-140],[2.79,-60],[2.76,-60],[2.73,-130],[2.7,-170],[2.66,-120],[2.6,-40],[2.5,-10],[2.0,0]];
const j4c = [[2.0,0],[2.3,0],[2.6,5],[2.75,20],[2.85,72],[2.9,138],[2.95,208],[2.98,260],[3.0,272],[3.02,265],[3.05,228],[3.1,152],[3.15,90],[3.2,55],[3.3,28],[3.38,25],[3.42,40],[3.46,78],[3.49,40],[3.55,35],[3.7,45],[3.8,55],[3.85,65],[3.9,55],[3.95,60],[4.0,80]];
const j4d = [[4.0,-10],[3.9,-18],[3.7,-25],[3.5,-30],[3.38,-45],[3.33,-90],[3.3,-165],[3.28,-120],[3.24,-50],[3.15,-40],[3.05,-50],[3.0,-85],[2.95,-160],[2.92,-180],[2.87,-220],[2.83,-140],[2.78,-70],[2.74,-60],[2.7,-110],[2.66,-130],[2.62,-90],[2.55,-25],[2.45,-5],[2.0,0]];

// ---------- styling ----------
const cycleColors = ['#1a1a1a','#ff1a1a','#19e619','#2a2aff'];
const FONT = "'Liberation Serif','Times New Roman',serif";
const ROWS = [{top:0,h:155},{top:155,h:155},{top:310,h:158},{top:468,h:157},{top:625,h:158}];
const COLS = [
  {left:0,w:193,L:30,R:184,ypad:3,ytp:1.5,legL:-37,legR:-26,legT:-21,legY0:9},
  {left:193,w:194,L:232,R:386,ypad:5,ytp:8.5,legL:-40,legR:-30,legT:-27,legY0:12.5}
];
const cvTitle = 'Voltage (V) vs Na/Na\u207A';
const dqTitle = 'Voltage (V)';
const cvY = 'Current (mA)';
const dqY = 'dQ/dV (mAh\u00B7g\u207B\u00B9\u00B7V\u207B\u00B9)';

const panels = [
 {lab:'(a)',col:0,row:0,T:6,B:128,xtb:3.5,ymin:-0.15,ymax:0.15,yt:yTicksCV15,cv:true,loops:[a1,a2,a3,a4],
  name:['C-PB-0.3',2.47,0.105],
  ann:[['v',3.107,0.112,0.0],['v',2.806,-0.045,0.0],['a',2.806,3.107,0.0],['v',3.265,-0.046,0.003],['v',3.497,0.05,0.003],['a',3.265,3.497,0.003],
       ['t','3.107V',3.13,0.129],['t','3.497V',3.49,0.059],['t','\u25B3E=0.301V',2.68,-0.016],['t','\u25B3E=0.232V',3.57,-0.008],['t','2.806V',2.88,-0.072],['t','3.265V',3.26,-0.06],['t','2.614V',2.57,-0.111]]},
 {lab:'(b)',col:1,row:0,T:5,B:129,xtb:2,ymin:-400,ymax:700,yt:yTicksDQ6,cv:false,ch:[b1c,b2c,b3c,b4c],dis:[b1d,b2d,b3d,b4d],name:['C-PB-0.3',2.39,545],ann:[]},
 {lab:'(c)',col:0,row:1,T:163,B:287,xtb:2,ymin:-0.15,ymax:0.15,yt:yTicksCV15,cv:true,loops:[c1,c2,c3,c4],
  name:['Y-PB-0.3',2.45,0.112],
  ann:[['v',3.059,0.11,0.0],['v',2.823,-0.05,0.0],['a',2.823,3.059,0.0],['v',3.303,-0.05,0.002],['v',3.469,0.046,0.002],['a',3.303,3.469,0.002],
       ['t','3.059V',3.08,0.134],['t','3.469V',3.49,0.059],['t','\u25B3E=0.236V',2.72,-0.012],['t','\u25B3E=0.166V',3.67,-0.004],['t','2.823V',2.93,-0.068],['t','3.303V',3.23,-0.066],['t','2.613V',2.61,-0.105]]},
 {lab:'(d)',col:1,row:1,T:162,B:286,xtb:0,ymin:-400,ymax:700,yt:yTicksDQ6,cv:false,ch:[d1c,d2c,d3c,d4c],dis:[d1d,d2d,d3d,d4d],name:['Y-PB-0.3',2.36,580],ann:[]},
 {lab:'(e)',col:0,row:2,T:320,B:444,xtb:0.5,ymin:-0.3,ymax:0.3,yt:yTicksCV3,cv:true,loops:[e1,e2,e3,e4],
  name:['Y-PB-15',2.31,0.228],
  ann:[['v',3.077,0.222,0.004],['v',2.977,-0.085,0.004],['a',2.977,3.077,0.004],['v',3.321,-0.04,0.0],['v',3.431,0.028,0.0],['a',3.321,3.431,0.0],
       ['t','3.077V',3.08,0.276],['t','3.431V',3.47,0.059],['t','\u25B3E=0.100V',2.6,0.026],['t','\u25B3E=0.110V',3.65,-0.038],['t','2.977V',3.0,-0.105],['t','3.321V',3.34,-0.062],['t','2.747V',2.74,-0.262]]},
 {lab:'(f)',col:1,row:2,T:320,B:444,xtb:0,ymin:-400,ymax:500,yt:yTicksDQ4,cv:false,ch:[f1c,f2c,f3c,f4c],dis:[f1d,f2d,f3d,f4d],name:['Y-PB-15',2.35,407],ann:[]},
 {lab:'(g)',col:0,row:3,T:475,B:602,xtb:5,ymin:-0.228,ymax:0.23,yt:yTicksCV2,cv:true,loops:[g1,g2,g3,g4],
  name:['Y-PB-30',2.28,0.17],
  ann:[['v',3.103,0.17,0.0],['v',2.975,-0.06,0.0],['a',2.975,3.103,0.0],['v',3.314,-0.03,0.0],['v',3.456,0.024,0.0],['a',3.314,3.456,0.0],
       ['t','3.103V',3.08,0.2],['t','3.456V',3.47,0.047],['t','\u25B3E=0.128V',2.61,0.019],['t','\u25B3E=0.142V',3.65,-0.032],['t','2.975V',2.92,-0.083],['t','3.314V',3.33,-0.058],['t','2.715V',2.71,-0.2]]},
 {lab:'(h)',col:1,row:3,T:475,B:602,xtb:0,ymin:-563,ymax:682,yt:yTicksDQ6,cv:false,ch:[h1c,h2c,h3c,h4c],dis:[h1d,h2d,h3d,h4d],name:['Y-PB-30',2.35,519],ann:[]},
 {lab:'(i)',col:0,row:4,T:634,B:760,xtb:0,ymin:-0.3,ymax:0.35,yt:yTicksCV3,cv:true,loops:[i1,i2,i3,i4],
  name:['Y-PB-41',2.28,0.273],
  ann:[['v',3.074,0.28,0.0],['v',2.968,-0.065,0.0],['a',2.968,3.074,0.0],['v',3.317,-0.045,0.0],['v',3.45,0.027,0.0],['a',3.317,3.45,0.0],
       ['t','3.074V',3.07,0.316],['t','3.450V',3.49,0.076],['t','\u25B3E=0.106V',2.64,0.045],['t','\u25B3E=0.133V',3.65,-0.038],['t','2.968V',3.01,-0.104],['t','3.317V',3.33,-0.069],['t','2.768V',2.75,-0.262]]},
 {lab:'(j)',col:1,row:4,T:633,B:759,xtb:0,ymin:-400,ymax:500,yt:yTicksDQ4,cv:false,ch:[j1c,j2c,j3c,j4c],dis:[j1d,j2d,j3d,j4d],name:['Y-PB-41',2.35,397],ann:[]}
];

const labPos = {'(a)':[1,0],'(b)':[206,1],'(c)':[1,155],'(d)':[206,155],'(e)':[1,311],'(f)':[206,310],'(g)':[1,465],'(h)':[206,464],'(i)':[1,625],'(j)':[206,624]};

const toXY = arr => arr.map(([x,y]) => ({x, y}));

function decoPlugin(p, C) {
  return {
    id: 'deco',
    afterDatasetsDraw(chart) {
      const {ctx, chartArea: a, scales: {x, y}} = chart;
      ctx.save();
      // annotations: dashed guides and arrows
      p.ann.forEach(o => {
        if (o[0] === 'v') {
          const px = x.getPixelForValue(o[1]);
          ctx.setLineDash([2, 1.5]); ctx.strokeStyle = '#333'; ctx.lineWidth = 0.8;
          ctx.beginPath(); ctx.moveTo(px, y.getPixelForValue(o[2])); ctx.lineTo(px, y.getPixelForValue(o[3])); ctx.stroke();
          ctx.setLineDash([]);
        } else if (o[0] === 'a') {
          const x1 = x.getPixelForValue(o[1]), x2 = x.getPixelForValue(o[2]), py = y.getPixelForValue(o[3]);
          ctx.strokeStyle = '#8c8c8c'; ctx.fillStyle = '#8c8c8c'; ctx.lineWidth = 1.6;
          ctx.beginPath(); ctx.moveTo(x1 + 3, py); ctx.lineTo(x2 - 3, py); ctx.stroke();
          ctx.beginPath(); ctx.moveTo(x1, py); ctx.lineTo(x1 + 4, py - 2.3); ctx.lineTo(x1 + 4, py + 2.3); ctx.closePath(); ctx.fill();
          ctx.beginPath(); ctx.moveTo(x2, py); ctx.lineTo(x2 - 4, py - 2.3); ctx.lineTo(x2 - 4, py + 2.3); ctx.closePath(); ctx.fill();
        }
      });
      ctx.fillStyle = '#000';
      ctx.font = 'bold 7px ' + FONT;
      ctx.textAlign = 'center'; ctx.textBaseline = 'middle';
      p.ann.forEach(o => {
        if (o[0] === 't') ctx.fillText(o[1], x.getPixelForValue(o[2]), y.getPixelForValue(o[3]));
      });
      ctx.fillText(p.name[0], x.getPixelForValue(p.name[1]), y.getPixelForValue(p.name[2]));
      // frame
      ctx.strokeStyle = '#000'; ctx.lineWidth = 1;
      const L = Math.round(a.left) + 0.5, R = Math.round(a.right) - 0.5, T = Math.round(a.top) + 0.5, Bt = Math.round(a.bottom) - 0.5;
      ctx.strokeRect(L, T, R - L, Bt - T);
      // minor ticks
      ctx.beginPath();
      for (let k = 0; k < xTicks.length - 1; k++) {
        const px = Math.round(x.getPixelForValue((xTicks[k] + xTicks[k + 1]) / 2)) + 0.5;
        ctx.moveTo(px, Bt); ctx.lineTo(px, Bt + 1.8);
      }
      const st = p.yt[1] - p.yt[0];
      for (let v = p.yt[0] - st / 2; v < p.ymax; v += st) {
        if (v <= p.ymin + 1e-9 || v >= p.ymax - 1e-9) continue;
        const py = Math.round(y.getPixelForValue(v)) + 0.5;
        ctx.moveTo(L, py); ctx.lineTo(L - 1.8, py);
      }
      ctx.stroke();
      // legend
      ctx.textAlign = 'left';
      cycleNames.forEach((nm, k) => {
        const ly = a.top + C.legY0 + k * 8.3;
        ctx.strokeStyle = cycleColors[k]; ctx.lineWidth = 1.4;
        ctx.beginPath(); ctx.moveTo(a.right + C.legL, ly); ctx.lineTo(a.right + C.legR, ly); ctx.stroke();
        ctx.fillStyle = '#000';
        ctx.fillText(nm, a.right + C.legT, ly + 0.5);
      });
      ctx.restore();
    }
  };
}

panels.forEach(p => {
  const C = COLS[p.col], Rw = ROWS[p.row];
  const cv = document.createElement('canvas');
  cv.width = C.w; cv.height = Rw.h;
  cv.style.left = C.left + 'px'; cv.style.top = Rw.top + 'px';
  cv.style.width = C.w + 'px'; cv.style.height = Rw.h + 'px';
  document.body.appendChild(cv);

  const datasets = [];
  if (p.cv) {
    p.loops.forEach((arr, k) => datasets.push({data: toXY(arr), borderColor: cycleColors[k], order: 4 - k}));
  } else {
    p.ch.forEach((arr, k) => datasets.push({data: toXY(arr), borderColor: cycleColors[k], order: 4 - k}));
    p.dis.forEach((arr, k) => datasets.push({data: toXY(arr), borderColor: cycleColors[k], order: 4 - k}));
  }
  datasets.forEach(d => { d.showLine = true; d.pointRadius = 0; d.borderWidth = 1; d.tension = 0.25; d.fill = false; });

  const tickFont = {family: FONT, size: 7, weight: 'bold'};
  new Chart(cv, {
    type: 'scatter',
    data: {datasets},
    options: {
      responsive: false, animation: false, devicePixelRatio: 1,
      events: [],
      layout: {padding: {left: 0, top: p.T - Rw.top, right: C.w - (C.R - C.left), bottom: 0}},
      plugins: {legend: {display: false}, tooltip: {enabled: false}},
      scales: {
        x: {
          type: 'linear', min: 1.75, max: 4.25,
          afterBuildTicks: s => { s.ticks = xTicks.map(v => ({value: v})); },
          afterFit: s => { s.height = Rw.top + Rw.h - p.B; },
          grid: {display: true, drawOnChartArea: false, drawTicks: true, tickLength: 3, color: '#000', lineWidth: 1},
          border: {display: false},
          ticks: {font: tickFont, color: '#000', padding: 1.5, maxRotation: 0, autoSkip: false, callback: v => Number(v).toFixed(1)},
          title: {display: true, text: p.cv ? cvTitle : dqTitle, font: {family: FONT, size: 7, weight: 'bold'}, color: '#000', padding: {top: 0, bottom: p.xtb}}
        },
        y: {
          type: 'linear', min: p.ymin, max: p.ymax,
          afterBuildTicks: s => { s.ticks = p.yt.map(v => ({value: v})); },
          afterFit: s => { s.width = C.L - C.left; },
          grid: {display: true, drawOnChartArea: false, drawTicks: true, tickLength: 3, color: '#000', lineWidth: 1},
          border: {display: false},
          ticks: {font: tickFont, color: '#000', padding: C.ypad, autoSkip: false, callback: v => p.cv ? Number(v).toFixed(1) : String(Math.round(v))},
          title: {display: true, text: p.cv ? cvY : dqY, font: {family: FONT, size: 7, weight: 'bold'}, color: '#000', padding: {top: C.ytp, bottom: 0}}
        }
      }
    },
    plugins: [decoPlugin(p, C)]
  });

  const d = document.createElement('div');
  d.className = 'pl'; d.textContent = p.lab;
  d.style.left = labPos[p.lab][0] + 'px'; d.style.top = labPos[p.lab][1] + 'px';
  document.body.appendChild(d);
});
</script>
</body></html>
